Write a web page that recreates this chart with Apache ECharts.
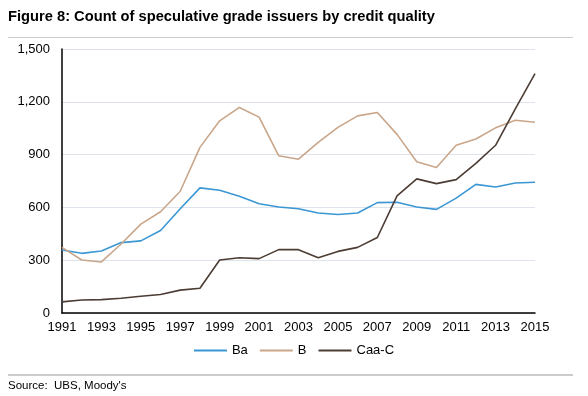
<!DOCTYPE html>
<html>
<head>
<meta charset="utf-8">
<script src="https://cdn.jsdelivr.net/npm/echarts@6/dist/echarts.min.js"></script>
<style>
  html, body { margin: 0; padding: 0; background: #fff; }
  #chart { width: 588px; height: 396px; }
</style>
</head>
<body>
<div id="chart"></div>
<script>
// data
const years = ['1991', '1992', '1993', '1994', '1995', '1996', '1997', '1998', '1999', '2000',
  '2001', '2002', '2003', '2004', '2005', '2006', '2007', '2008', '2009', '2010',
  '2011', '2012', '2013', '2014', '2015']
const baValues = [358, 339, 352, 400, 410, 469, 592, 711, 697, 663,
  621, 602, 592, 568, 560, 568, 627, 629, 602, 589,
  653, 731, 716, 739, 743]
const bValues = [373, 301, 290, 392, 505, 575, 692, 941, 1092, 1168,
  1113, 893, 874, 970, 1055, 1120, 1139, 1015, 859, 827,
  953, 989, 1052, 1095, 1084]
const caaValues = [63, 74, 76, 84, 95, 105, 130, 141, 301, 314,
  309, 360, 360, 314, 350, 373, 429, 665, 762, 735,
  758, 850, 953, 1160, 1360]
const seriesNames = ['Ba', 'B', 'Caa-C']
const yTicks = { min: 0, max: 1500, step: 300 }

const font = 'Liberation Sans, Arial, sans-serif'
const colors = ['#3b97d3', '#c9a68a', '#4b3c34']

const chart = echarts.init(document.getElementById('chart'))

const makeLine = (name, data, color) => ({
  name,
  type: 'line',
  data,
  symbol: 'none',
  smooth: false,
  lineStyle: { color, width: 1.6 },
  itemStyle: { color }
})

chart.setOption({
  animation: false,
  textStyle: { fontFamily: font },
  graphic: [
    {
      type: 'text', left: 8, top: 9,
      style: { text: 'Figure 8: Count of speculative grade issuers by credit quality', font: 'bold 14.7px ' + font, fill: '#000' }
    },
    { type: 'rect', left: 8, top: 37, shape: { width: 565, height: 1 }, style: { fill: '#cccccc' } },
    { type: 'rect', left: 8, top: 374, shape: { width: 565, height: 2 }, style: { fill: '#cccccc' } },
    {
      type: 'text', left: 8, top: 380,
      style: { text: 'Source:  UBS, Moody\'s', font: '11.5px ' + font, fill: '#000' }
    }
  ],
  legend: {
    data: seriesNames,
    bottom: 34,
    left: 'center',
    icon: 'rect',
    itemWidth: 33,
    itemHeight: 2,
    itemGap: 12,
    textStyle: { fontSize: 13, color: '#000', fontFamily: font }
  },
  grid: { left: 62, right: 53, top: 49, bottom: 83 },
  xAxis: {
    type: 'category',
    data: years,
    boundaryGap: false,
    axisLine: { lineStyle: { color: '#000', width: 1.5 } },
    axisTick: { show: false },
    axisLabel: { interval: 1, color: '#000', fontSize: 13, margin: 8 }
  },
  yAxis: {
    type: 'value',
    min: yTicks.min,
    max: yTicks.max,
    interval: yTicks.step,
    axisLine: { show: true, lineStyle: { color: '#000', width: 1.5 } },
    axisTick: { show: false },
    splitLine: { lineStyle: { color: '#dfe3ec', width: 1 } },
    axisLabel: {
      color: '#000', fontSize: 13, margin: 12,
      formatter: v => v.toLocaleString('en-US')
    }
  },
  series: [
    makeLine(seriesNames[0], baValues, colors[0]),
    makeLine(seriesNames[1], bValues, colors[1]),
    makeLine(seriesNames[2], caaValues, colors[2])
  ]
})
</script>
</body>
</html>
